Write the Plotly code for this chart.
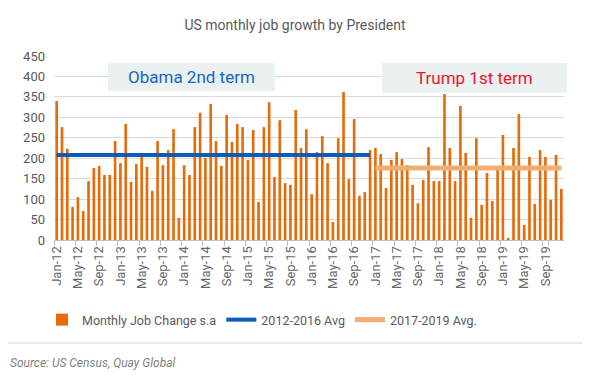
import plotly.graph_objects as go

# ---- data ----
month_names = ["Jan", "Feb", "Mar", "Apr", "May", "Jun",
               "Jul", "Aug", "Sep", "Oct", "Nov", "Dec"]
years = ["12", "13", "14", "15", "16", "17", "18", "19"]
months = [f"{m}-{y}" for y in years for m in month_names]

job_change = [
    340, 276, 223, 81, 105, 71, 144, 176, 181, 159, 159, 242,   # 2012
    188, 284, 142, 186, 203, 179, 120, 242, 183, 220, 271, 54,  # 2013
    183, 159, 276, 311, 201, 333, 242, 181, 306, 240, 284, 276, # 2014
    196, 269, 93, 276, 337, 154, 293, 139, 135, 318, 225, 271,  # 2015
    112, 215, 254, 188, 44, 249, 362, 149, 296, 108, 117, 220,  # 2016
    225, 210, 127, 196, 215, 198, 183, 135, 90, 147, 227, 144,  # 2017
    144, 357, 225, 144, 328, 213, 54, 249, 86, 164, 95, 174,    # 2018
    257, 5, 225, 308, 37, 203, 88, 220, 203, 98, 208, 125,      # 2019
]

obama_months = months[:60]
obama_avg = [208] * len(obama_months)
trump_months = months[60:]
trump_avg = [176] * len(trump_months)

tick_labels = months[::4]

FONT = "Roboto"
GRAY = "#595959"

# page pixel -> paper coordinates (plot area spans page x 54..564, y 56..240)
def px(x):
    return (x - 54) / 510

def py(y):
    return (240 - y) / 184

fig = go.Figure()
fig.add_trace(go.Bar(
    x=months, y=job_change, name="Monthly Job Change s.a",
    marker=dict(color="#E46C0A", line=dict(width=0)),
))
fig.add_trace(go.Scatter(
    x=obama_months, y=obama_avg, name="2012-2016 Avg", mode="lines",
    line=dict(color="#0A5CB8", width=4),
))
fig.add_trace(go.Scatter(
    x=trump_months, y=trump_avg, name="2017-2019 Avg.", mode="lines",
    line=dict(color="#F2AD72", width=5),
))

fig.update_layout(
    width=591, height=377,
    margin=dict(l=46, r=35, t=48, b=145),
    paper_bgcolor="white", plot_bgcolor="white",
    font=dict(family=FONT, color=GRAY, size=12),
    bargap=0.5,
    title=dict(text="US monthly job growth by President", xref="container", x=287 / 591,
               xanchor="center", y=1 - 17 / 377, yanchor="middle",
               font=dict(size=14, color=GRAY)),
    showlegend=True,
    legend=dict(orientation="h", x=px(262), xanchor="center", y=py(320), yanchor="middle",
                font=dict(size=12.5, color=GRAY), itemwidth=30, tracegroupgap=0),
    xaxis=dict(
        type="category", tickmode="array", tickvals=tick_labels, ticktext=tick_labels,
        tickangle=-90, tickson="boundaries", ticks="outside", ticklen=5,
        tickcolor="#BFBFBF", showline=True, linecolor="#BFBFBF", linewidth=1,
        showgrid=False, tickfont=dict(size=13, color="#666666"),
        range=[-0.5, 95.5],
    ),
    yaxis=dict(
        range=[0, 450], dtick=50, tick0=0, showgrid=True, gridcolor="#D9D9D9",
        gridwidth=1, zeroline=False, showline=False, ticks="",
        tickfont=dict(size=13, color=GRAY), ticklabelstandoff=8,
    ),
    shapes=[
        dict(type="rect", xref="paper", yref="paper",
             x0=px(7), x1=px(585), y0=py(343), y1=py(5),
             line=dict(color="#D9D9D9", width=1), fillcolor="rgba(0,0,0,0)", layer="below"),
        dict(type="rect", xref="paper", yref="paper",
             x0=px(108), x1=px(275), y0=py(91), y1=py(63),
             line=dict(width=0), fillcolor="#EBF1F1", layer="above"),
        dict(type="rect", xref="paper", yref="paper",
             x0=px(382), x1=px(567), y0=py(93), y1=py(63),
             line=dict(width=0), fillcolor="#EBF1F1", layer="above"),
    ],
    annotations=[
        dict(text="Obama 2nd term", xref="paper", yref="paper",
             x=px(191.5), y=py(77), xanchor="center", yanchor="middle",
             showarrow=False, font=dict(size=17, color="#1565C0", family=FONT)),
        dict(text="Trump 1st term", xref="paper", yref="paper",
             x=px(474.5), y=py(78), xanchor="center", yanchor="middle",
             showarrow=False, font=dict(size=17, color="#F0141E", family=FONT)),
        dict(text="<i>Source: US Census, Quay Global</i>", xref="paper", yref="paper",
             x=px(8), y=py(363), xanchor="left", yanchor="middle",
             showarrow=False, font=dict(size=12, color="#7F7F7F", family=FONT)),
    ],
)

fig.write_html("out.html")
